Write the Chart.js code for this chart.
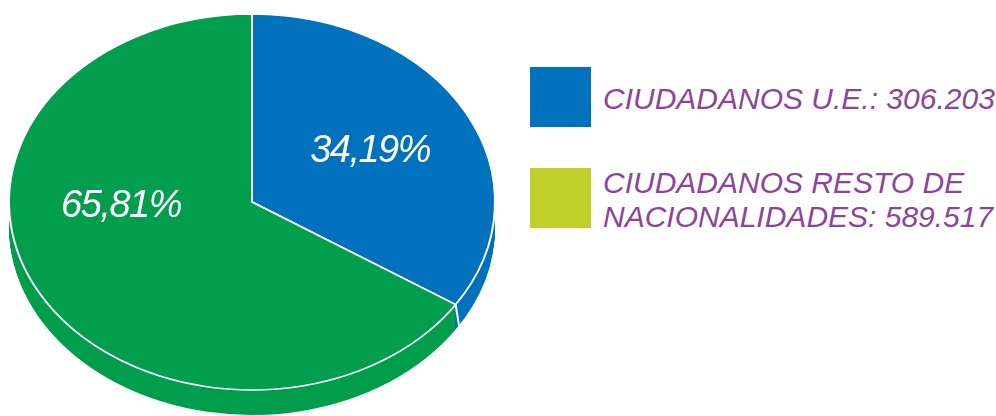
<!DOCTYPE html>
<html>
<head>
<meta charset="utf-8">
<script src="https://cdn.jsdelivr.net/npm/chart.js@4/dist/chart.umd.min.js"></script>
<style>
  html, body { margin: 0; padding: 0; background: #fff; overflow: hidden; }
  body { width: 996px; height: 416px; position: relative; font-family: "Liberation Sans", Arial, sans-serif; }
  .pieBox { position: absolute; left: 2px; top: -48px; width: 500px; height: 500px; }
  .legend { position: absolute; left: 530px; top: 0; }
  .legendItem { position: absolute; left: 0; white-space: nowrap; }
  .swatch { position: absolute; left: 0; top: 0; width: 61px; height: 60px; }
  .legendText { position: absolute; left: 73px; color: #8e449a; font-style: italic; font-size: 30px; line-height: 34px; }
</style>
</head>
<body>
<div class="pieBox"><canvas id="myChart"></canvas></div>
<div class="legend" id="legend"></div>
<script>
// Data
const categories = ['CIUDADANOS U.E.', 'CIUDADANOS RESTO DE NACIONALIDADES'];
const legendLines = [
  ['CIUDADANOS U.E.: 306.203'],
  ['CIUDADANOS RESTO DE', 'NACIONALIDADES: 589.517']
];
const residents = [306203, 589517];
const percentLabels = ['34,19%', '65,81%'];

const sliceColors = ['#0071bc', '#009e4d'];
const legendColors = ['#0071bc', '#bfd02b'];

// legend (drawn in html, the original uses a different swatch colour for the 2nd item)
const legend = document.getElementById('legend');
const legendTops = [67, 168];
categories.forEach((cat, i) => {
  const item = document.createElement('div');
  item.className = 'legendItem';
  item.style.top = legendTops[i] + 'px';
  const sw = document.createElement('div');
  sw.className = 'swatch';
  sw.style.background = legendColors[i];
  const txt = document.createElement('div');
  txt.className = 'legendText';
  txt.style.top = (legendLines[i].length === 1 ? 15 : -2) + 'px';
  txt.innerHTML = legendLines[i].join('<br>');
  item.appendChild(sw);
  item.appendChild(txt);
  legend.appendChild(item);
});

// fake 3d: squash the pie and draw a side wall under it
const tilt = 188 / 243;
const depth = 25;

const pie3d = {
  id: 'pie3d',
  beforeDatasetsDraw(chart) {
    const ctx = chart.ctx;
    const arcs = chart.getDatasetMeta(0).data;
    const cx = arcs[0].x, cy = arcs[0].y;
    ctx.save();
    ctx.translate(cx, cy);
    ctx.scale(1, tilt);
    ctx.translate(-cx, -cy);
    for (let d = depth; d > 0; d--) {
      ctx.save();
      ctx.translate(0, d / tilt);
      arcs.forEach(arc => {
        ctx.beginPath();
        ctx.moveTo(arc.x, arc.y);
        ctx.arc(arc.x, arc.y, arc.outerRadius, arc.startAngle, arc.endAngle);
        ctx.closePath();
        ctx.fillStyle = arc.options.backgroundColor;
        ctx.fill();
      });
      ctx.restore();
    }
    // seam on the side wall
    arcs.forEach(arc => {
      const a = arc.endAngle;
      const sx = arc.x + Math.cos(a) * arc.outerRadius;
      const sy = arc.y + Math.sin(a) * arc.outerRadius;
      if (Math.sin(a) > 0) {
        ctx.beginPath();
        ctx.moveTo(sx, sy);
        ctx.lineTo(sx + 4, sy + depth / tilt);
        ctx.strokeStyle = '#fff';
        ctx.lineWidth = 2;
        ctx.stroke();
      }
    });
  },
  afterDatasetsDraw(chart, args, opts) {
    const ctx = chart.ctx;
    ctx.restore();
    const arcs = chart.getDatasetMeta(0).data;
    ctx.save();
    ctx.fillStyle = '#fff';
    ctx.font = 'italic 38px "Liberation Sans", Arial, sans-serif';
    ctx.letterSpacing = '-1.5px';
    ctx.textAlign = 'center';
    ctx.textBaseline = 'middle';
    arcs.forEach((arc, i) => {
      const p = opts.labelAt[i];
      ctx.fillText(percentLabels[i], arc.x + p[0] * arc.outerRadius,
        arc.y + p[1] * arc.outerRadius * tilt);
    });
    ctx.restore();
  }
};

const data = {
  labels: categories,
  datasets: [{
    data: residents,
    backgroundColor: sliceColors,
    borderColor: '#fff',
    borderWidth: 2
  }]
};

const config = {
  type: 'pie',
  data,
  options: {
    responsive: true,
    maintainAspectRatio: false,
    animation: false,
    radius: 243,
    events: [],
    plugins: {
      legend: { display: false },
      tooltip: { enabled: false },
      pie3d: { labelAt: [[0.486, -0.271], [-0.539, 0.021]] }
    }
  },
  plugins: [pie3d]
};

const pieChart = new Chart(document.getElementById('myChart'), config);
</script>
</body>
</html>
